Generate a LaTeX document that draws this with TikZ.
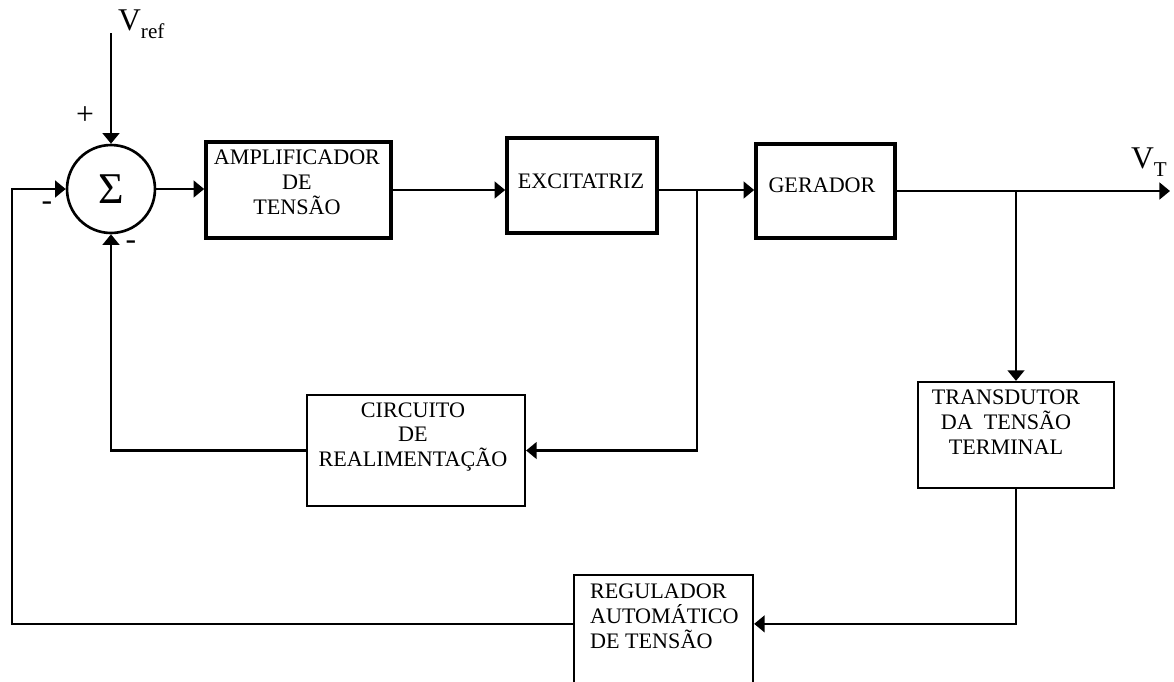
\documentclass[tikz,border=0pt]{standalone}
\usepackage{fontspec}
\setmainfont{Liberation Serif}
\usetikzlibrary{arrows.meta}

\begin{document}
\begin{tikzpicture}[x=0.02cm, y=-0.02cm, line width=1.3pt,
        >={Triangle[length=6pt,width=9.5pt]},
        bloco/.style={draw, rectangle, line width=2.1pt, inner sep=0pt},
        blocofino/.style={draw, rectangle, line width=1.3pt, inner sep=0pt},
        rotulo/.style={align=center, inner sep=0pt, font=\fontsize{12.6}{14.2}\selectfont},
        sinal/.style={inner sep=0pt, font=\fontsize{18}{18}\selectfont},
        saida/.style={anchor=west, inner sep=0pt, font=\fontsize{18}{18}\selectfont}]
    \useasboundingbox (0,0) rectangle (1174,681);
    % somador e blocos
    \node[circle, draw, line width=1.5pt, minimum size=1.76cm, inner sep=0pt, font=\fontsize{25}{25}\selectfont] (soma) at (111,189) {Σ};
    \node[bloco, minimum width=3.70cm, minimum height=1.92cm] (amp) at (298.5,190) {};
    \node[bloco, minimum width=3.00cm, minimum height=1.90cm] (exc) at (582,185.5) {};
    \node[bloco, minimum width=2.78cm, minimum height=1.88cm] (ger) at (825.5,191) {};
    \node[blocofino, minimum width=3.92cm, minimum height=2.12cm] (tra) at (1016,435) {};
    \node[blocofino, minimum width=4.36cm, minimum height=2.22cm] (cir) at (416,450.5) {};
    \node[blocofino, minimum width=3.58cm, minimum height=2.80cm] (reg) at (663.5,645) {};
    % textos
    \node[rotulo] (amp-t) at (297,182) {AMPLIFICADOR\\DE\\TENSÃO};
    \node[rotulo] (exc-t) at (581,181) {EXCITATRIZ};
    \node[rotulo] (ger-t) at (822,185) {GERADOR};
    \node[rotulo] (tra-t) at (1006,422) {TRANSDUTOR\\DA~~TENSÃO\\TERMINAL};
    \node[rotulo] (cir-t) at (413,437) {CIRCUITO\\DE\\REALIMENTAÇÃO};
    \node[rotulo, align=left, anchor=west] (reg-t) at (589,616) {REGULADOR\\AUTOMÁTICO\\DE TENSÃO};
    \node[saida] (vref-t) at (117,24) {V\raisebox{-0.55ex}{\fontsize{12}{12}\selectfont ref}};
    \node[saida] (vt-t) at (1130,162) {V\raisebox{-0.55ex}{\fontsize{12}{12}\selectfont T}};
    \node[sinal] (mais) at (85,116) {+};
    \node[sinal] (menos1) at (47,206) {-};
    \node[sinal] (menos2) at (131,245) {-};
    % ligacoes
    \coordinate (vref) at (111,33);
    \coordinate (vt) at (1170,191);
    \coordinate (j1) at (697,190);
    \coordinate (j2) at (1016,191);
    \coordinate (esq) at (12,0);
    \draw[->] (vref) -- (soma.north);
    \draw[->] (soma.east) -- (soma.east -| amp.west);
    \draw[->] (amp.east) -- (amp.east -| exc.west);
    \draw[->] (amp.east -| exc.east) -- (amp.east -| ger.west);
    \draw[->] (ger.east) -- (vt);
    \draw[->] (j1) |- (cir.east);
    \draw[->] (j2) -- (tra.north);
    \draw[->] (tra.south) |- ([yshift=-1cm]reg.north east);
    \draw[->] (cir.west) -| (soma.south);
    \draw[->] ([yshift=-1cm]reg.north west) -| (esq |- soma.west) -- (soma.west);
\end{tikzpicture}
\end{document}
